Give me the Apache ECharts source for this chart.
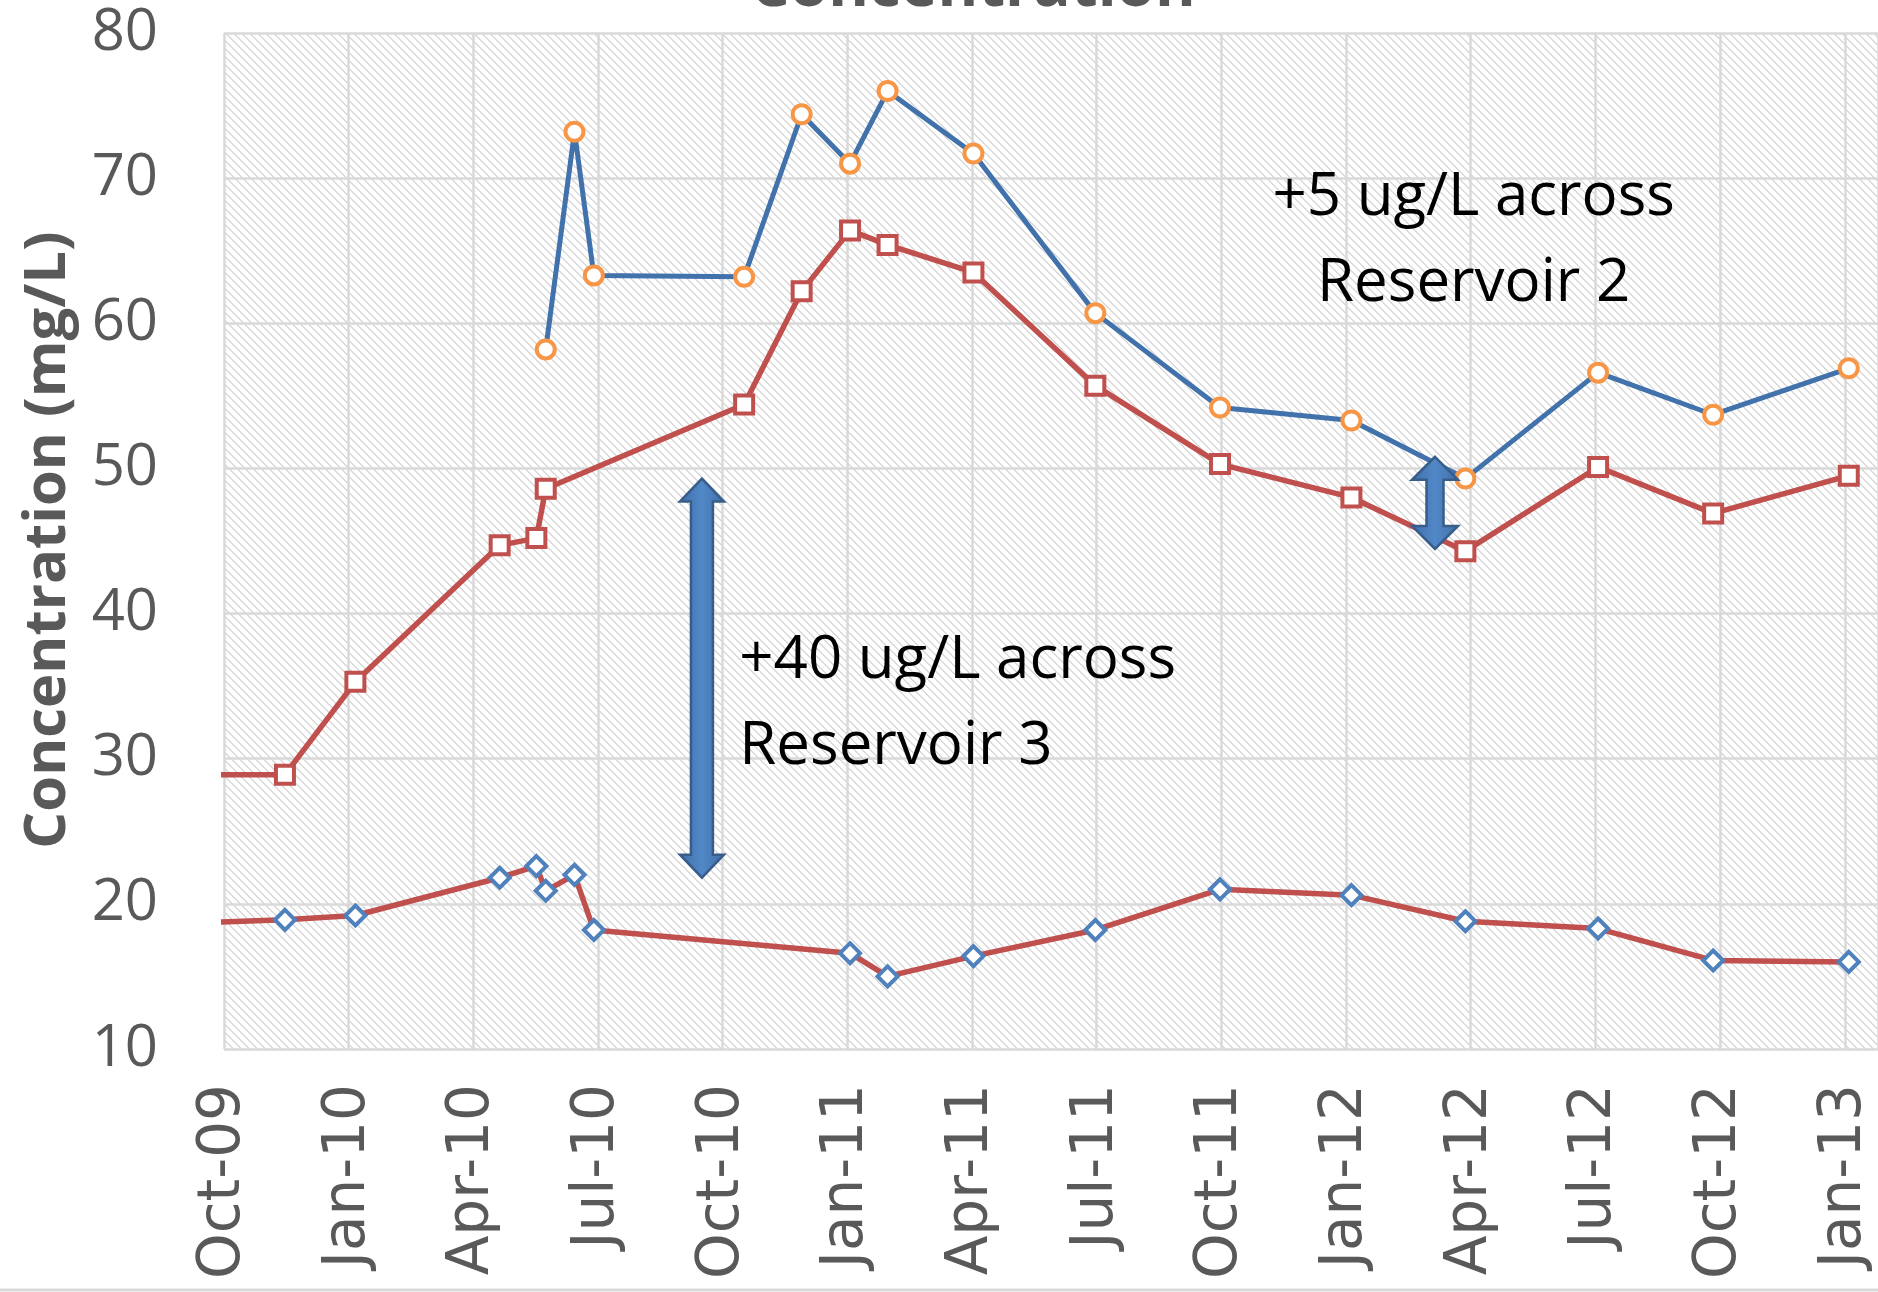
<!DOCTYPE html>
<html>
<head>
<meta charset="utf-8">
<script src="https://cdn.jsdelivr.net/npm/echarts@6/dist/echarts.min.js"></script>
<style>
html,body{margin:0;padding:0;background:#fff;}
#chart{width:1878px;height:1292px;}
</style>
</head>
<body>
<div id="chart"></div>
<script>
// ---- Tick labels ----
const xTickLabels = ['Oct-09','Jan-10','Apr-10','Jul-10','Oct-10','Jan-11','Apr-11','Jul-11','Oct-11','Jan-12','Apr-12','Jul-12','Oct-12','Jan-13'];
const yTickValues = [10, 20, 30, 40, 50, 60, 70, 80];

// ---- Series: diamonds (lower, red line) ----
const lowerDates = ['2009-09-01','2009-11-15','2010-01-06','2010-04-20','2010-05-17','2010-05-24','2010-06-14','2010-06-28','2011-01-03','2011-01-31','2011-04-02','2011-06-30','2011-09-30','2012-01-05','2012-03-28','2012-07-03','2012-09-26','2013-01-04'];
const lowerValues = [18.65, 18.9, 19.2, 21.8, 22.6, 20.9, 22.0, 18.2, 16.6, 15.0, 16.4, 18.2, 21.0, 20.6, 18.8, 18.3, 16.1, 16.0];

// ---- Series: squares (middle, red line) ----
const middleDates = ['2009-09-01','2009-11-15','2010-01-06','2010-04-20','2010-05-17','2010-05-24','2010-10-17','2010-11-28','2011-01-03','2011-01-31','2011-04-02','2011-06-30','2011-09-30','2012-01-05','2012-03-28','2012-07-03','2012-09-26','2013-01-04'];
const middleValues = [28.9, 28.9, 35.3, 44.7, 45.2, 48.6, 54.4, 62.2, 66.4, 65.4, 63.5, 55.7, 50.3, 48.0, 44.3, 50.1, 46.9, 49.5];

// ---- Series: circles (upper, blue line) ----
const upperDates = ['2010-05-24','2010-06-14','2010-06-28','2010-10-17','2010-11-28','2011-01-03','2011-01-31','2011-04-02','2011-06-30','2011-09-30','2012-01-05','2012-03-28','2012-07-03','2012-09-26','2013-01-04'];
const upperValues = [58.2, 73.2, 63.3, 63.2, 74.4, 71.0, 76.0, 71.7, 60.7, 54.2, 53.3, 49.3, 56.6, 53.7, 56.9];

// ---- Annotations (data coordinates: months since Oct-09, concentration) ----
const arrowR3 = {x: 11.5, top: 49.3, bottom: 21.8};
const arrowR2 = {x: 29.14, top: 50.8, bottom: 44.45};
const textR3 = {x: 12.4, y: 33.75, text: '+40 ug/L across\nReservoir 3'};
const textR2 = {x: 30.07, y: 65.7, text: '+5 ug/L across\nReservoir 2'};

// month position since 2009-10-01
function monthPos(s) {
  const p = s.split('-').map(Number);
  const dim = new Date(p[0], p[1], 0).getDate();
  return (p[0] - 2009) * 12 + (p[1] - 10) + (p[2] - 1) / dim;
}
function pairs(dates, vals) { return dates.map((d, i) => [monthPos(d), vals[i]]); }

// hatch pattern
const tile = document.createElement('canvas');
tile.width = 8; tile.height = 8;
const tctx = tile.getContext('2d');
tctx.fillStyle = '#ffffff'; tctx.fillRect(0, 0, 8, 8);
tctx.fillStyle = '#dadada';
for (let y = 0; y < 8; y++) for (let x = 0; x < 8; x++) {
  const k = ((x - y) % 8 + 8) % 8;
  if (k < 2) tctx.fillRect(x, y, 1, 1);
}

const chart = echarts.init(document.getElementById('chart'), null, {renderer: 'canvas'});
const gridColor = '#d9d9d9';
chart.setOption({
  animation: false,
  backgroundColor: '#ffffff',
  grid: {left: 224, right: 0, top: 33, bottom: 243, show: true, borderWidth: 0,
         backgroundColor: {image: tile, repeat: 'repeat'}},
  xAxis: {
    type: 'value', min: 0, max: 39.8, interval: 3,
    axisLine: {show: false}, axisTick: {show: false},
    splitLine: {show: true, lineStyle: {color: gridColor, width: 2.5}},
    axisLabel: {
      rotate: 90, margin: 35, fontSize: 58, fontFamily: 'DejaVu Sans', color: '#595959',
      formatter: v => (Math.abs(v % 3) < 1e-9 && v / 3 < xTickLabels.length) ? xTickLabels[Math.round(v / 3)] : ''
    }
  },
  yAxis: {
    type: 'value', min: yTickValues[0], max: yTickValues[yTickValues.length - 1], interval: 10,
    axisLine: {show: false}, axisTick: {show: false},
    splitLine: {show: true, lineStyle: {color: gridColor, width: 2.5}},
    axisLabel: {margin: 66, fontSize: 58, fontFamily: 'Open Sans', color: '#595959'}
  },
  series: [
    {name: 'Lower', type: 'line', data: pairs(lowerDates, lowerValues), clip: true, showAllSymbol: true,
     symbol: 'diamond', symbolSize: 20,
     lineStyle: {color: '#c0504d', width: 5.5},
     itemStyle: {color: '#ffffff', borderColor: '#4f81bd', borderWidth: 4}},
    {name: 'Middle', type: 'line', data: pairs(middleDates, middleValues), clip: true, showAllSymbol: true,
     symbol: 'rect', symbolSize: 18,
     lineStyle: {color: '#c0504d', width: 5.5},
     itemStyle: {color: '#ffffff', borderColor: '#c0504d', borderWidth: 4}},
    {name: 'Upper', type: 'line', data: pairs(upperDates, upperValues), clip: true, showAllSymbol: true,
     symbol: 'circle', symbolSize: 18,
     lineStyle: {color: '#4272ab', width: 5},
     itemStyle: {color: '#ffffff', borderColor: '#f79646', borderWidth: 4}}
  ]
});

function arrowShape(a, hw, sw, hl) {
  const t = chart.convertToPixel({gridIndex: 0}, [a.x, a.top]);
  const b = chart.convertToPixel({gridIndex: 0}, [a.x, a.bottom]);
  const cx = t[0], top = t[1], bot = b[1];
  return [[cx, top], [cx + hw, top + hl], [cx + sw, top + hl], [cx + sw, bot - hl], [cx + hw, bot - hl],
          [cx, bot], [cx - hw, bot - hl], [cx - sw, bot - hl], [cx - sw, top + hl], [cx - hw, top + hl]];
}
const arrowFill = {type: 'linear', x: 0, y: 0, x2: 1, y2: 0, colorStops: [
  {offset: 0, color: '#3f6ea6'}, {offset: 0.5, color: '#5288c8'}, {offset: 1, color: '#3f6ea6'}]};
const pR3 = chart.convertToPixel({gridIndex: 0}, [textR3.x, textR3.y]);
const pR2 = chart.convertToPixel({gridIndex: 0}, [textR2.x, textR2.y]);

chart.setOption({
  graphic: [
    {type: 'polygon', z: 100, shape: {points: arrowShape(arrowR3, 22, 11, 23)},
     style: {fill: arrowFill, stroke: '#385d8a', lineWidth: 2.5}},
    {type: 'polygon', z: 100, shape: {points: arrowShape(arrowR2, 23, 8.5, 23)},
     style: {fill: arrowFill, stroke: '#385d8a', lineWidth: 2.5}},
    {type: 'text', z: 100, x: pR3[0], y: pR3[1],
     style: {text: textR3.text, fill: '#000000', font: '60px "Open Sans"', lineHeight: 86,
             align: 'left', verticalAlign: 'middle'}},
    {type: 'text', z: 100, x: pR2[0], y: pR2[1],
     style: {text: textR2.text, fill: '#000000', font: '60px "Open Sans"', lineHeight: 86,
             align: 'center', verticalAlign: 'middle'}},
    {type: 'text', z: 100, x: 48, y: 540, rotation: Math.PI / 2,
     style: {text: 'Concentration (mg/L)', fill: '#595959', font: 'bold 58px "Open Sans"',
             align: 'center', verticalAlign: 'middle'}},
    {type: 'text', z: 100, x: 973, y: -12,
     style: {text: 'Concentration', fill: '#595959', font: 'bold 62px "Open Sans"',
             align: 'center', verticalAlign: 'middle'}},
    {type: 'line', z: 100, shape: {x1: 0, y1: 1290, x2: 1878, y2: 1290},
     style: {stroke: '#d9d9d9', lineWidth: 3}}
  ]
});
</script>
</body>
</html>
